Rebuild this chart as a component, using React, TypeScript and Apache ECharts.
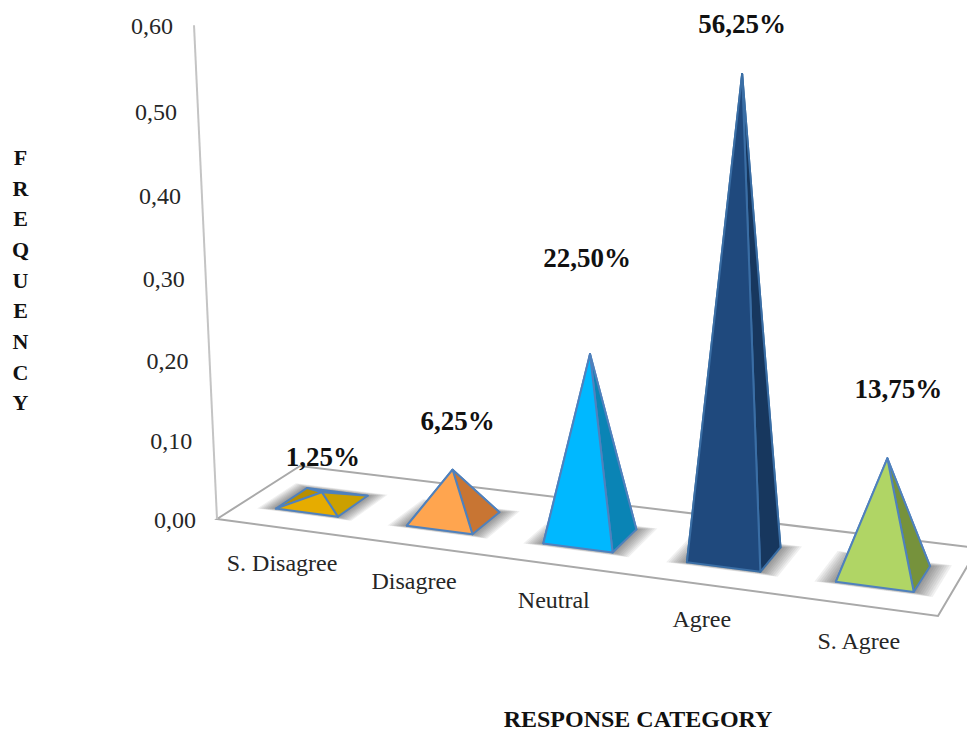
import React, { useEffect, useRef } from "react";
import * as echarts from "echarts";

// Response data
const categories = ["S. Disagree", "Disagree", "Neutral", "Agree", "S. Agree"];
const frequencies = [0.0125, 0.0625, 0.225, 0.5625, 0.1375];
const percentLabels = ["1,25%", "6,25%", "22,50%", "56,25%", "13,75%"];
const axisTicks = [0, 0.1, 0.2, 0.3, 0.4, 0.5, 0.6];
const axisTickLabels = ["0,00", "0,10", "0,20", "0,30", "0,40", "0,50", "0,60"];
const axisLetters = ["F", "R", "E", "Q", "U", "E", "N", "C", "Y"];

// Face colours per pyramid: front, right, back and left
const frontFaces = ["#e6ac00", "#ffa54f", "#00b8ff", "#1f497d", "#b0d565"];
const sideFaces = ["#cba000", "#c87533", "#0a84b5", "#17375e", "#76923c"];
const backFaces = ["#b88e00", "#b86a2c", "#086f99", "#12304f", "#66803a"];
const edgeColours = ["#4f81bd", "#4f81bd", "#4f81bd", "#3a6ea5", "#4f81bd"];

// Placement of the value captions above each apex
const captionLift = [35, 49, 96, 50, 69];
const captionShift = [1, 5, -3, 0, 11];
// Nearer pyramids appear slightly taller under the camera's perspective
const nearScale = [1, 1, 1.015, 1.04, 1.06];
// Small sideways adjustment of each slot along the floor
const slotNudge = [0.006, 0.01, 0.011, 0.011, 0.007];

const SERIF = '"Liberation Serif", "Times New Roman", serif';
const GRID = { left: 100, right: 100, top: 26, bottom: 211 };
const WIDTH = 967;
const HEIGHT = 731;

// Floor quad: front-left, front-right, back-right, back-left
const floorQuad = [
  [217, 519],
  [938, 616],
  [978, 548],
  [300, 466],
];

// Projective map from the unit square onto the floor quad
function makeFloorMap(q: number[][]) {
  const [[x0, y0], [x1, y1], [x2, y2], [x3, y3]] = q;
  const dx1 = x1 - x2, dx2 = x3 - x2, sx = x0 - x1 + x2 - x3;
  const dy1 = y1 - y2, dy2 = y3 - y2, sy = y0 - y1 + y2 - y3;
  const den = dx1 * dy2 - dx2 * dy1;
  const g = (sx * dy2 - dx2 * sy) / den;
  const h = (dx1 * sy - sx * dy1) / den;
  const a = x1 - x0 + g * x1, b = x3 - x0 + h * x3, c = x0;
  const d = y1 - y0 + g * y1, e = y3 - y0 + h * y3, f = y0;
  return (u: number, v: number) => {
    const w = g * u + h * v + 1;
    return [(a * u + b * v + c) / w, (d * u + e * v + f) / w];
  };
}
const floorAt = makeFloorMap(floorQuad);

// Vertical lines converge below the floor, and upper heights are stretched
const LEAN = 1.225e-4;
const LEAN_ORIGIN = 597;
const FULL_RISE = HEIGHT - GRID.bottom - GRID.top;
function lift(base: number[], rise: number) {
  const h = rise * (0.951 + (0.0486 * rise) / FULL_RISE);
  return [base[0] + LEAN * (base[0] - LEAN_ORIGIN) * h, base[1] - h];
}

const uOf = (px: number) => (px - GRID.left) / (WIDTH - GRID.left - GRID.right);

const HALF_U = 0.049;
const MID_V = 0.46;
const HALF_V = 0.19;
const HALO_STEPS = 9;

function renderStage(_: any, api: any) {
  const top = api.coord([0, 0.6]);
  const bottom = api.coord([0, 0]);
  const corner = floorAt(0, 0);
  const wallTop = lift(corner, bottom[1] - top[1]);
  const edge = { stroke: "#a9a9a9", lineWidth: 2, fill: "none" };
  return {
    type: "group",
    children: [
      { type: "polygon", shape: { points: floorQuad }, style: { fill: "#ffffff", ...edge } },
      {
        type: "line",
        shape: { x1: corner[0], y1: corner[1], x2: wallTop[0], y2: wallTop[1] },
        style: { stroke: "#c4c4c4", lineWidth: 2 },
      },
    ],
  };
}

function renderTick(params: any, api: any) {
  const p = api.coord([0, api.value(1)]);
  const zero = api.coord([0, 0]);
  const at = lift(floorAt(0, 0), zero[1] - p[1]);
  return {
    type: "text",
    style: {
      text: axisTickLabels[params.dataIndex],
      x: at[0] - 21,
      y: at[1] + 1,
      textAlign: "right",
      textVerticalAlign: "middle",
      font: `24px ${SERIF}`,
      fill: "#262626",
    },
  };
}

function renderPyramid(params: any, api: any) {
  const i = params.dataIndex;
  const c = api.coord([api.value(0), api.value(1)]);
  const zero = api.coord([api.value(0), 0]);
  const u = uOf(c[0]) + slotNudge[i];
  const fl = floorAt(u - HALF_U, MID_V - HALF_V);
  const fr = floorAt(u + HALF_U, MID_V - HALF_V);
  const br = floorAt(u + HALF_U, MID_V + HALF_V);
  const bl = floorAt(u - HALF_U, MID_V + HALF_V);
  const apex = lift(floorAt(u, MID_V), (zero[1] - c[1]) * nearScale[i]);
  const face = (points: number[][], fill: string) => ({
    type: "polygon",
    shape: { points },
    style: { fill, stroke: edgeColours[i], lineWidth: 2, lineJoin: "round" },
  });
  // Soft contact shadow, built from nested translucent outlines
  const halo = [];
  for (let k = HALO_STEPS; k >= 1; k--) {
    const du = k * 0.0028;
    halo.push({
      type: "polygon",
      shape: {
        points: [
          floorAt(u - HALF_U - du, MID_V - HALF_V - k * 0.004),
          floorAt(u + HALF_U + du, MID_V - HALF_V - k * 0.004),
          floorAt(u + HALF_U + du, MID_V + HALF_V + k * 0.006),
          floorAt(u - HALF_U - du, MID_V + HALF_V + k * 0.006),
        ],
      },
      style: { fill: "rgba(50,50,50,0.075)" },
    });
  }
  const label = floorAt(uOf(c[0]) + 0.006, 0);
  return {
    type: "group",
    children: [
      ...halo,
      face([bl, br, apex], backFaces[i]),
      face([fl, bl, apex], backFaces[i]),
      face([fr, br, apex], sideFaces[i]),
      face([fl, fr, apex], frontFaces[i]),
      {
        type: "text",
        style: {
          text: categories[i],
          x: label[0] - 2,
          y: label[1] + 35,
          textAlign: "center",
          textVerticalAlign: "middle",
          font: `24px ${SERIF}`,
          fill: "#262626",
        },
      },
      {
        type: "text",
        style: {
          text: percentLabels[i],
          x: apex[0] + captionShift[i],
          y: apex[1] - captionLift[i],
          textAlign: "center",
          textVerticalAlign: "middle",
          font: `bold 27px ${SERIF}`,
          fill: "#111111",
        },
      },
    ],
  };
}

export default function App() {
  const ref = useRef<HTMLDivElement>(null);

  useEffect(() => {
    document.body.style.margin = "0";
    const chart = echarts.init(ref.current!, undefined, { renderer: "svg" });
    chart.setOption({
      animation: false,
      backgroundColor: "#ffffff",
      grid: GRID,
      xAxis: { type: "category", data: categories, show: false },
      yAxis: { type: "value", min: 0, max: 0.6, interval: 0.1, show: false },
      graphic: [
        {
          type: "text",
          left: 12,
          top: 142,
          style: {
            text: axisLetters.join("\n"),
            font: `bold 22px ${SERIF}`,
            lineHeight: 30.7,
            fill: "#111111",
            textAlign: "center",
          },
        },
        {
          type: "text",
          x: 638,
          y: 719,
          style: {
            text: "RESPONSE CATEGORY",
            font: `bold 24px ${SERIF}`,
            fill: "#111111",
            textAlign: "center",
            textVerticalAlign: "middle",
          },
        },
      ],
      series: [
        {
          type: "custom",
          z: 1,
          silent: true,
          clip: false,
          data: [[0, 0]],
          renderItem: renderStage,
        },
        {
          type: "custom",
          z: 2,
          silent: true,
          clip: false,
          data: axisTicks.map((t) => [0, t]),
          renderItem: renderTick,
        },
        {
          type: "custom",
          z: 3,
          silent: true,
          clip: false,
          data: frequencies.map((f, i) => [i, f]),
          renderItem: renderPyramid,
        },
      ],
    });
    return () => chart.dispose();
  }, []);

  return <div ref={ref} style={{ width: WIDTH, height: HEIGHT }} />;
}
